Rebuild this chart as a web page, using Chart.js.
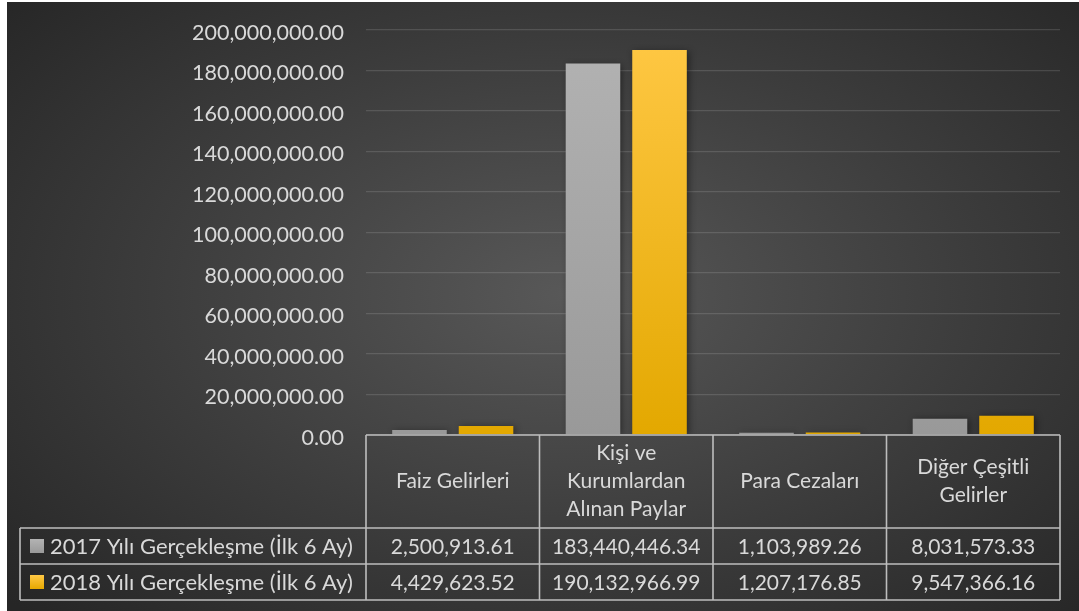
<!DOCTYPE html>
<html>
<head>
<meta charset="utf-8">
<script src="https://cdn.jsdelivr.net/npm/chart.js@4"></script>
<style>
  html, body { margin: 0; padding: 0; background: #fff; }
  #wrap {
    position: absolute; left: 7px; top: 2px; width: 1072px; height: 609px;
    background: radial-gradient(ellipse 70% 75% at 52% 48%, #585858 0%, #3c3c3c 55%, #262626 100%);
  }
</style>
</head>
<body>
<div id="wrap"><canvas id="chart" width="1072" height="609"></canvas></div>
<script>
// chart data
const categories = [
    ['Faiz Gelirleri'],
    ['Kişi ve', 'Kurumlardan', 'Alınan Paylar'],
    ['Para Cezaları'],
    ['Diğer Çeşitli', 'Gelirler']
];
const seriesNames = ['2017 Yılı Gerçekleşme (İlk 6 Ay)', '2018 Yılı Gerçekleşme (İlk 6 Ay)'];
const values2017 = [2500913.61, 183440446.34, 1103989.26, 8031573.33];
const values2018 = [4429623.52, 190132966.99, 1207176.85, 9547366.16];
const yTicksMax = 200000000;
const yTicksStep = 20000000;

const FONT = 'Lato, "Open Sans", sans-serif';
const TEXT = '#d9d9d9';
const LINE = '#bdbdbd';

function fmt(v) {
    return v.toLocaleString('en-US', { minimumFractionDigits: 2, maximumFractionDigits: 2 });
}

function barGradient(top, bottom) {
    return (c) => {
        const area = c.chart.chartArea;
        if (!area) return top;
        const g = c.chart.ctx.createLinearGradient(0, area.top, 0, area.bottom);
        g.addColorStop(0, top);
        g.addColorStop(1, bottom);
        return g;
    };
}

// soft shadow behind the bars
const barShadow = {
    id: 'barShadow',
    beforeDatasetsDraw(chart) {
        const ctx = chart.ctx;
        ctx.save();
        ctx.shadowColor = 'rgba(0,0,0,0.45)';
        ctx.shadowBlur = 7;
        ctx.shadowOffsetX = 2;
        ctx.shadowOffsetY = 1;
    },
    afterDatasetsDraw(chart) {
        chart.ctx.restore();
    }
};

// draws the data table under the plot
const dataTable = {
    id: 'dataTable',
    afterDraw(chart) {
        const ctx = chart.ctx;
        const x = chart.scales.x;
        const area = chart.chartArea;
        const step = (area.right - area.left) / categories.length;
        const top = area.bottom;
        const headerH = 93, rowH = 36;
        const legendLeft = 13;
        const rows = [values2017, values2018];

        ctx.save();
        ctx.strokeStyle = LINE;
        ctx.lineWidth = 1.6;
        ctx.beginPath();
        ctx.moveTo(area.left, top); ctx.lineTo(area.right, top);
        for (let i = 0; i <= categories.length; i++) {
            const cx = area.left + i * step;
            ctx.moveTo(cx, top); ctx.lineTo(cx, top + headerH + rowH * 2);
        }
        for (let r = 0; r <= 2; r++) {
            const y = top + headerH + r * rowH;
            ctx.moveTo(legendLeft, y); ctx.lineTo(area.right, y);
        }
        ctx.moveTo(legendLeft, top + headerH); ctx.lineTo(legendLeft, top + headerH + rowH * 2);
        ctx.stroke();

        ctx.fillStyle = TEXT;
        ctx.font = '21px ' + FONT;
        ctx.textAlign = 'center';
        ctx.textBaseline = 'middle';
        categories.forEach((lines, i) => {
            const cx = x.getPixelForValue(i);
            const lh = 28;
            const y0 = top + headerH / 2 - (lines.length - 1) * lh / 2;
            lines.forEach((ln, j) => ctx.fillText(ln, cx, y0 + j * lh));
            rows.forEach((vals, r) => {
                ctx.fillText(fmt(vals[i]), cx, top + headerH + r * rowH + rowH / 2 + 1);
            });
        });

        ctx.textAlign = 'left';
        ctx.font = '22px ' + FONT;
        seriesNames.forEach((name, r) => {
            const cy = top + headerH + r * rowH + rowH / 2;
            const g = ctx.createLinearGradient(0, cy - 7, 0, cy + 7);
            g.addColorStop(0, r ? '#ffc845' : '#b3b3b3');
            g.addColorStop(1, r ? '#e6a800' : '#999999');
            ctx.fillStyle = g;
            ctx.fillRect(legendLeft + 10, cy - 7, 14, 14);
            ctx.fillStyle = TEXT;
            ctx.fillText(name, legendLeft + 30, cy + 1);
        });
        ctx.restore();
    }
};

new Chart(document.getElementById('chart'), {
    type: 'bar',
    data: {
        labels: categories.map(c => c.join(' ')),
        datasets: [
            {
                label: seriesNames[0],
                data: values2017,
                backgroundColor: barGradient('#b3b3b3', '#999999')
            },
            {
                label: seriesNames[1],
                data: values2018,
                backgroundColor: barGradient('#ffc845', '#e3a800')
            }
        ]
    },
    options: {
        responsive: false,
        animation: false,
        layout: { padding: { top: 28, bottom: 176, right: 19, left: 0 } },
        plugins: { legend: { display: false }, tooltip: { enabled: false } },
        datasets: { bar: { categoryPercentage: 0.767, barPercentage: 0.82 } },
        scales: {
            x: { display: false },
            y: {
                min: 0,
                max: yTicksMax,
                afterFit(scale) { scale.width = 359; },
                border: { display: false },
                grid: {
                    color: 'rgba(255,255,255,0.13)',
                    lineWidth: 1.3,
                    tickColor: 'transparent',
                    tickLength: 20
                },
                ticks: {
                    stepSize: yTicksStep,
                    padding: 2,
                    labelOffset: 3,
                    color: TEXT,
                    font: { family: FONT, size: 21.5 },
                    callback: (v) => fmt(v)
                }
            }
        }
    },
    plugins: [barShadow, dataTable]
});
</script>
</body>
</html>
